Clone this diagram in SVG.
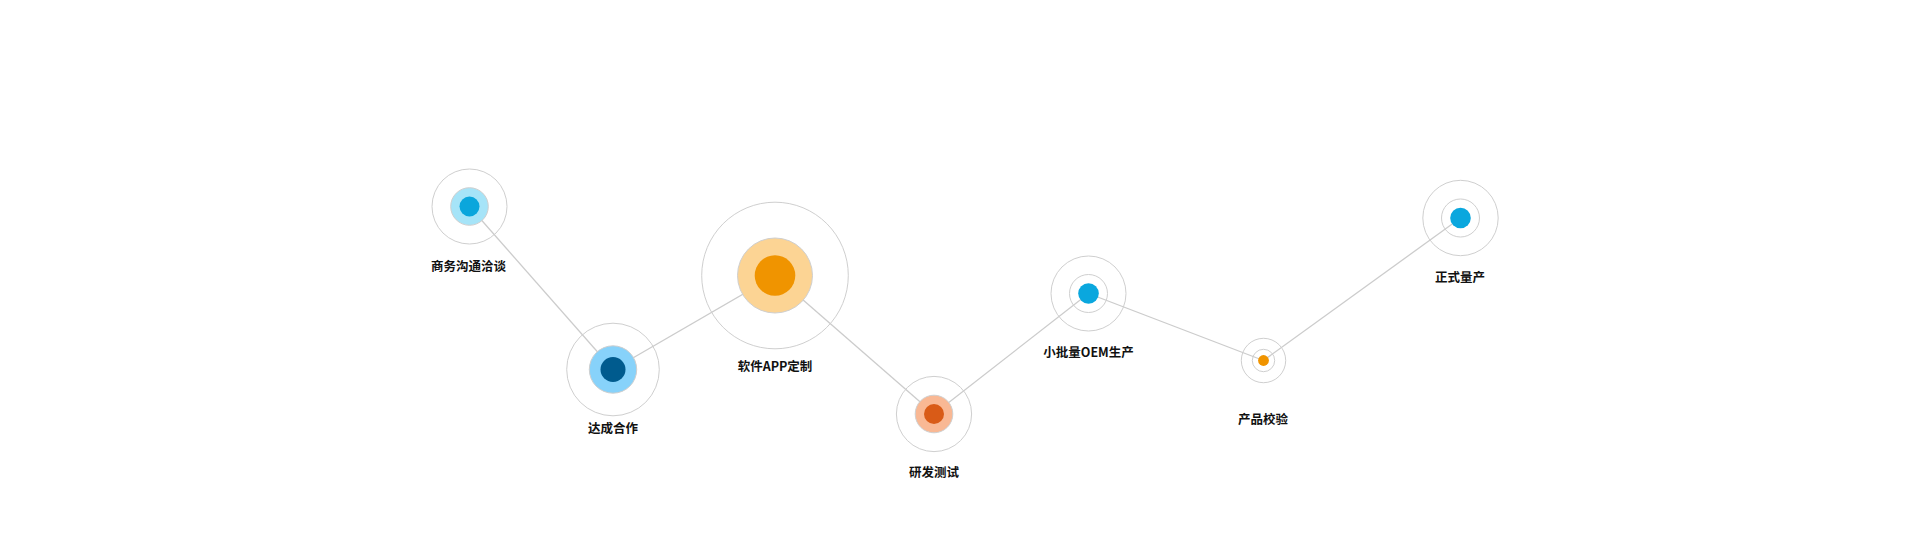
<svg xmlns="http://www.w3.org/2000/svg" width="1919" height="540" viewBox="0 0 1919 540">
<style>
.ring{fill:none;stroke:#cfcfcf;stroke-width:1}
.mid{stroke:#cfcfcf;stroke-width:1}
.lbl{font-family:"Noto Sans CJK SC","Noto Sans",sans-serif;font-size:12.5px;font-weight:bold;fill:#111;text-anchor:middle;dominant-baseline:central}
.conn{stroke:#cccccc;stroke-width:1.3;fill:none}
</style>
<rect width="1919" height="540" fill="#ffffff"/>
<g id="connectors">
<line class="conn" x1="469.5" y1="206.5" x2="613" y2="369.5"/>
<line class="conn" x1="613" y1="369.5" x2="775" y2="275.5"/>
<line class="conn" x1="775" y1="275.5" x2="934" y2="414"/>
<line class="conn" x1="934" y1="414" x2="1088.5" y2="293.5"/>
<line class="conn" x1="1088.5" y1="293.5" x2="1263.5" y2="360.5"/>
<line class="conn" x1="1263.5" y1="360.5" x2="1460.5" y2="218"/>
</g>
<g id="node1">
<circle class="ring" cx="469.5" cy="206.5" r="37.5"/>
<circle class="mid" cx="469.5" cy="206.5" r="18.8" fill="#a6e4f8"/>
<circle cx="469.5" cy="206.5" r="10" fill="#0aa6dc"/>
<text class="lbl" x="468.5" y="265">商务沟通洽谈</text>
</g>
<g id="node2">
<circle class="ring" cx="613" cy="369.5" r="46.3"/>
<circle class="mid" cx="613" cy="369.5" r="23.7" fill="#87d2fa"/>
<circle cx="613" cy="369.5" r="12.5" fill="#005b8e"/>
<text class="lbl" x="613" y="427">达成合作</text>
</g>
<g id="node3">
<circle class="ring" cx="775" cy="275.5" r="73.3"/>
<circle class="mid" cx="775" cy="275.5" r="37.5" fill="#fcd494"/>
<circle cx="775" cy="275.5" r="20.3" fill="#f09400"/>
<text class="lbl" x="775" y="365">软件APP定制</text>
</g>
<g id="node4">
<circle class="ring" cx="934" cy="414" r="37.6"/>
<circle class="mid" cx="934" cy="414" r="18.8" fill="#f9b894"/>
<circle cx="934" cy="414" r="10" fill="#d95b17"/>
<text class="lbl" x="934" y="471.5">研发测试</text>
</g>
<g id="node5">
<circle class="ring" cx="1088.5" cy="293.5" r="37.5"/>
<circle class="ring" cx="1088.5" cy="293.5" r="19"/>
<circle cx="1088.5" cy="293.5" r="10.3" fill="#0aa7de"/>
<text class="lbl" x="1088.5" y="351">小批量OEM生产</text>
</g>
<g id="node6">
<circle class="ring" cx="1263.5" cy="360.5" r="22.2"/>
<circle class="ring" cx="1263.5" cy="360.5" r="11.2"/>
<circle cx="1263.5" cy="360.5" r="5.4" fill="#f09400"/>
<text class="lbl" x="1263" y="418">产品校验</text>
</g>
<g id="node7">
<circle class="ring" cx="1460.5" cy="218" r="37.7"/>
<circle class="ring" cx="1460.5" cy="218" r="19"/>
<circle cx="1460.5" cy="218" r="10.3" fill="#0aa7de"/>
<text class="lbl" x="1460" y="276">正式量产</text>
</g>
</svg>
